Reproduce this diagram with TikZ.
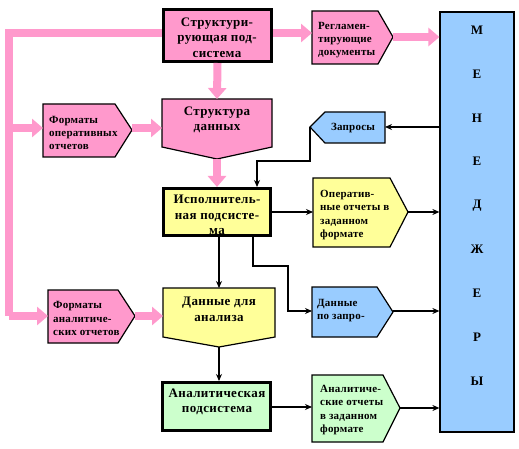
\documentclass[tikz,border=0pt]{standalone}
\usepackage{fontspec}
\setmainfont{Liberation Serif}
\newfontfamily\bigfnt[LetterSpace=3]{Liberation Serif}
\newfontfamily\smallfnt[LetterSpace=2]{Liberation Serif}
\usetikzlibrary{arrows.meta}
\definecolor{rpink}{HTML}{FF99CC}
\definecolor{ryellow}{HTML}{FFFF99}
\definecolor{rblue}{HTML}{99CCFF}
\definecolor{rgreen}{HTML}{CCFFCC}
\tikzset{
  bigtext/.style={font=\bigfnt\bfseries\fontsize{13}{15.5}\selectfont, align=center, inner sep=0pt},
  smalltext/.style={font=\smallfnt\bfseries\fontsize{11}{13.3}\selectfont, align=left, inner sep=0pt, anchor=west},
  lettertext/.style={font=\bfseries\fontsize{13}{15}\selectfont, inner sep=0pt},
  thickbox/.style={draw, line width=3pt, line join=miter},
  thinbox/.style={draw, line width=1.2pt, line join=miter},
  pinkline/.style={draw=rpink, line width=8pt, line join=miter},
  pinkarrow/.style={draw=rpink, line width=8pt, line join=miter, -{Triangle[length=11pt,width=18pt]}},
  blackarrow/.style={draw, line width=1.1pt, -{Stealth[length=7pt,width=6pt]}},
}
\begin{document}
\begin{tikzpicture}[x=1pt,y=-1pt]
\useasboundingbox (0,0) rectangle (519,449);
\fill[white] (0,0) rectangle (519,449);

% ---------- boxes ----------
\node[thickbox, fill=rpink, minimum width=108pt, minimum height=52pt, inner sep=0pt] (sts) at (217.5,35.5) {};
\node[thickbox, fill=ryellow, minimum width=107pt, minimum height=47pt, inner sep=0pt] (ip) at (217,212) {};
\node[thickbox, fill=rgreen, minimum width=108pt, minimum height=48pt, inner sep=0pt] (an) at (216.5,406.5) {};
\node[thinbox, fill=rblue, minimum width=74pt, minimum height=420pt, inner sep=0pt] (men) at (477,222) {};

% down pentagons
\draw[thinbox, fill=rpink] (162,99) -- (272,99) -- (272,147) -- (217,159) -- (162,147) -- cycle;
\coordinate (sd-n) at (217,99);
\coordinate (sd-w) at (162,128);
\coordinate (sd-tip) at (217,159);
\draw[thinbox, fill=ryellow] (163,288) -- (275,288) -- (275,337) -- (219,347) -- (163,337) -- cycle;
\coordinate (dda-n) at (219,288);
\coordinate (dda-w) at (163,316);
\coordinate (dda-tip) at (219,347);

% right pentagons
\draw[thinbox, fill=rpink] (312,11) -- (378,11) -- (393,37) -- (378,64) -- (312,64) -- cycle;
\coordinate (reg-w) at (312,33);
\coordinate (reg-tip) at (393,37);
\draw[thinbox, fill=rpink] (43,104) -- (115,104) -- (132,130) -- (115,157) -- (43,157) -- cycle;
\coordinate (fop-w) at (43,128);
\coordinate (fop-tip) at (132,128);
\draw[thinbox, fill=ryellow] (313,178) -- (390,178) -- (408,212) -- (390,247) -- (313,247) -- cycle;
\coordinate (oper-w) at (313,212);
\coordinate (oper-tip) at (408,212);
\draw[thinbox, fill=rblue] (312,287) -- (377,287) -- (393,312) -- (377,337) -- (312,337) -- cycle;
\coordinate (dpz-w) at (312,311);
\coordinate (dpz-tip) at (393,311);
\draw[thinbox, fill=rpink] (48,290) -- (118,290) -- (135,316) -- (118,343) -- (48,343) -- cycle;
\coordinate (faf-w) at (48,316);
\coordinate (faf-tip) at (135,316);
\draw[thinbox, fill=rgreen] (312,375) -- (383,375) -- (400,408) -- (383,442) -- (312,442) -- cycle;
\coordinate (aot-w) at (312,407);
\coordinate (aot-tip) at (400,408);
% left pentagon
\draw[thinbox, fill=rblue] (310,127) -- (325,112) -- (385,112) -- (385,143) -- (325,143) -- cycle;
\coordinate (zap-e) at (385,127);
\coordinate (zap-tip) at (310,127);

% ---------- texts ----------
\node[bigtext] (sts-t) at (217,37.5) {Структури-\\рующая под-\\система};
\node[bigtext] (sd-t) at (217,120) {Структура\\данных};
\node[bigtext] (ip-t) at (217,215) {Исполнитель-\\ная подсисте-\\ма};
\node[bigtext] (dda-t) at (219,309.5) {Данные для\\анализа};
\node[bigtext] (an-t) at (217,402) {Аналитическая\\подсистема};

\node[smalltext] (reg-t) at (318,40) {Регламен-\\тирующие\\документы};
\node[smalltext] (fop-t) at (49,133) {Форматы\\оперативных\\отчетов};
\node[smalltext, anchor=center] (zap-t) at (353,128) {Запросы};
\node[smalltext] (oper-t) at (320,215) {Оператив-\\ные отчеты в\\заданном\\формате};
\node[smalltext] (dpz-t) at (317,310.5) {Данные\\по запро-};
\node[smalltext] (faf-t) at (53,318.5) {Форматы\\аналитиче-\\ских отчетов};
\node[smalltext] (aot-t) at (320,410) {Аналитиче-\\ские отчеты\\в заданном\\формате};

\foreach \L [count=\i from 0] in {М,Е,Н,Е,Д,Ж,Е,Р,Ы} {
  \node[lettertext] (m\i) at (477,{30+43.9*\i}) {\L};
}

% ---------- pink connectors ----------
\coordinate (c1) at (9,33);
\coordinate (c2) at (9,316);
\coordinate (c3) at (9,128);
\draw[pinkline] (sts.west |- c1) -- (c1) -- (c2);
\draw[pinkarrow] (c2) -- (faf-w);
\draw[pinkarrow] (c3) -- (fop-w);
\draw[pinkarrow] (sts.south) -- (sd-n);
\draw[pinkarrow] (sts.east |- reg-w) -- (reg-w);
\draw[pinkarrow] (reg-tip) -- (men.west |- reg-tip);
\draw[pinkarrow] (fop-tip) -- (sd-w);
\draw[pinkarrow] (sd-tip) -- (ip.north -| sd-tip);
\draw[pinkarrow] (faf-tip) -- (dda-w);

% ---------- black connectors ----------
\coordinate (q1) at (257,161);
\coordinate (r1) at (253,266);
\coordinate (r2) at (288,266);
\draw[blackarrow] (men.west |- zap-e) -- (zap-e);
\draw[blackarrow] (zap-tip) |- (q1) -- (q1 |- ip.north);
\draw[blackarrow] (ip.east |- oper-w) -- (oper-w);
\draw[blackarrow] (oper-tip) -- (men.west |- oper-tip);
\draw[blackarrow] (ip.south -| dda-n) -- (dda-n);
\draw[blackarrow] (r1 |- ip.south) -- (r1) -- (r2) |- (dpz-w);
\draw[blackarrow] (dpz-tip) -- (men.west |- dpz-tip);
\draw[blackarrow] (dda-tip) -- (an.north -| dda-tip);
\draw[blackarrow] (an.east |- aot-w) -- (aot-w);
\draw[blackarrow] (aot-tip) -- (men.west |- aot-tip);
\end{tikzpicture}
\end{document}
